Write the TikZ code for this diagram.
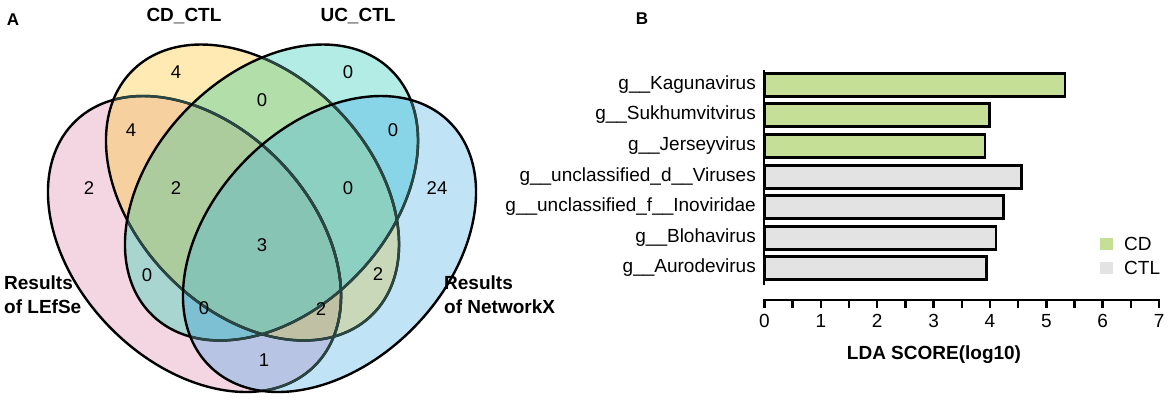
\documentclass[tikz,border=0pt]{standalone}
\usepackage{fontspec}
\setmainfont{Liberation Sans}
% region colours of the Venn diagram
\definecolor{rP}{RGB}{244,214,226}
\definecolor{rY}{RGB}{254,234,178}
\definecolor{rC}{RGB}{178,236,228}
\definecolor{rB}{RGB}{192,227,245}
\definecolor{rPY}{RGB}{247,208,160}
\definecolor{rPC}{RGB}{168,213,208}
\definecolor{rPB}{RGB}{183,196,228}
\definecolor{rYC}{RGB}{178,222,170}
\definecolor{rYB}{RGB}{200,216,185}
\definecolor{rCB}{RGB}{135,213,230}
\definecolor{rPYC}{RGB}{172,204,158}
\definecolor{rPYB}{RGB}{192,192,165}
\definecolor{rPCB}{RGB}{125,192,212}
\definecolor{rYCB}{RGB}{140,208,194}
\definecolor{rPYCB}{RGB}{136,196,180}
\definecolor{tint}{RGB}{42,70,66}
\definecolor{cdg}{RGB}{197,224,150}
\definecolor{ctlg}{RGB}{227,227,227}
\newcommand\vP[2]{#1[#2,rotate around={-45.8:(194.5,244)}] (194.5,244) ellipse [x radius=171.1pt,y radius=118.7pt];}
\newcommand\vY[2]{#1[#2,rotate around={-45.8:(252.5,192.5)}] (252.5,192.5) ellipse [x radius=171.1pt,y radius=118.7pt];}
\newcommand\vC[2]{#1[#2,rotate around={45.8:(271.5,192.5)}] (271.5,192.5) ellipse [x radius=171.1pt,y radius=118.7pt];}
\newcommand\vB[2]{#1[#2,rotate around={45.8:(329.5,244)}] (329.5,244) ellipse [x radius=171.1pt,y radius=118.7pt];}
\begin{document}
\begin{tikzpicture}[x=1pt,y=-1pt,
  ol/.style={draw=black,line width=2.4pt},
  olt/.style={draw=tint,line width=2.5pt},
  num/.style={font=\fontsize{18.5}{20}\selectfont,inner sep=0pt},
  head/.style={font=\bfseries\fontsize{19}{24}\selectfont,inner sep=0pt},
  panel/.style={font=\bfseries\fontsize{17}{20}\selectfont,inner sep=0pt},
  lab/.style={font=\fontsize{19}{22}\selectfont,inner sep=0pt},
  barbox/.style={draw=black,line width=2.5pt},
  axisline/.style={draw=black,line width=2.5pt}]
\useasboundingbox (0,0) rectangle (1170,400);
% ---------- Panel A : Venn ----------
\node[panel] (pA) at (13,20) {A};
% single sets
\vP{\fill}{rP}
\vY{\fill}{rY}
\vC{\fill}{rC}
\vB{\fill}{rB}
% pairs
\begin{scope}\vP{\clip}{}\vY{\fill}{rPY}\end{scope}
\begin{scope}\vP{\clip}{}\vC{\fill}{rPC}\end{scope}
\begin{scope}\vP{\clip}{}\vB{\fill}{rPB}\end{scope}
\begin{scope}\vY{\clip}{}\vC{\fill}{rYC}\end{scope}
\begin{scope}\vY{\clip}{}\vB{\fill}{rYB}\end{scope}
\begin{scope}\vC{\clip}{}\vB{\fill}{rCB}\end{scope}
% triples
\begin{scope}\vP{\clip}{}\vY{\clip}{}\vC{\fill}{rPYC}\end{scope}
\begin{scope}\vP{\clip}{}\vY{\clip}{}\vB{\fill}{rPYB}\end{scope}
\begin{scope}\vP{\clip}{}\vC{\clip}{}\vB{\fill}{rPCB}\end{scope}
\begin{scope}\vY{\clip}{}\vC{\clip}{}\vB{\fill}{rYCB}\end{scope}
% all four
\begin{scope}\vP{\clip}{}\vY{\clip}{}\vC{\clip}{}\vB{\fill}{rPYCB}\end{scope}
% outlines (earlier outlines look tinted where later sets cover them)
\vP{\draw}{ol}
\begin{scope}\vY{\clip}{}\vP{\draw}{olt}\end{scope}
\begin{scope}\vC{\clip}{}\vP{\draw}{olt}\end{scope}
\begin{scope}\vB{\clip}{}\vP{\draw}{olt}\end{scope}
\vY{\draw}{ol}
\begin{scope}\vC{\clip}{}\vY{\draw}{olt}\end{scope}
\begin{scope}\vB{\clip}{}\vY{\draw}{olt}\end{scope}
\vC{\draw}{ol}
\begin{scope}\vB{\clip}{}\vC{\draw}{olt}\end{scope}
\vB{\draw}{ol}
\node[head] (hcd) at (184,16) {CD\_CTL};
\node[head] (huc) at (358,16) {UC\_CTL};
\node[head,anchor=west,align=left] (hle) at (4,295) {Results\\of LEfSe};
\node[head,anchor=west,align=left] (hnx) at (444,295) {Results\\of NetworkX};
\node[num] (r1) at (176,72) {4};
\node[num] (r2) at (348,72) {0};
\node[num] (r3) at (262,100) {0};
\node[num] (r4) at (131,130) {4};
\node[num] (r5) at (393,130) {0};
\node[num] (r6) at (89,188) {2};
\node[num] (r7) at (176,188) {2};
\node[num] (r8) at (348,188) {0};
\node[num] (r9) at (437,188) {24};
\node[num] (r10) at (262,245) {3};
\node[num] (r11) at (147,275) {0};
\node[num] (r12) at (378,274) {2};
\node[num] (r13) at (204,308) {0};
\node[num] (r14) at (321,309) {2};
\node[num] (r15) at (264,360) {1};
% ---------- Panel B : bar chart ----------
\node[panel] (pB) at (642,19) {B};
\foreach \yy/\xe/\col/\nm/\txt in {
  85/1064.8/cdg/ka/g\_\_Kagunavirus,
  115/989.3/cdg/su/g\_\_Sukhumvitvirus,
  146/984.8/cdg/je/g\_\_Jerseyvirus,
  177/1021.4/ctlg/ud/g\_\_unclassified\_d\_\_Viruses,
  207/1003.3/ctlg/uf/g\_\_unclassified\_f\_\_Inoviridae,
  238/996.1/ctlg/bl/g\_\_Blohavirus,
  268/986.7/ctlg/au/g\_\_Aurodevirus}{
  \draw[barbox,fill=\col] (765,\yy-11.4) rectangle (\xe,\yy+11.4);
  \node[lab,anchor=east] (l\nm) at (756,\yy) {\txt};
}
\draw[axisline] (764,70) -- (764,285);
\draw[axisline] (763.3,300) -- (1160.2,300);
\foreach \i in {0,...,14}{
  \draw[axisline] ({764.5+\i*28.18},300) -- ++(0,7.5);
}
\foreach \i in {0,...,7}{
  \node[lab] (t\i) at ({764.5+\i*56.36},321) {\i};
}
\node[head] (xl) at (934,355) {LDA SCORE(log10)};
\fill[cdg] (1100,238) rectangle (1113,250);
\fill[ctlg] (1100,262) rectangle (1113,274);
\node[lab,anchor=west] (lcd) at (1124,244) {CD};
\node[lab,anchor=west] (lctl) at (1124,268) {CTL};
\end{tikzpicture}
\end{document}
